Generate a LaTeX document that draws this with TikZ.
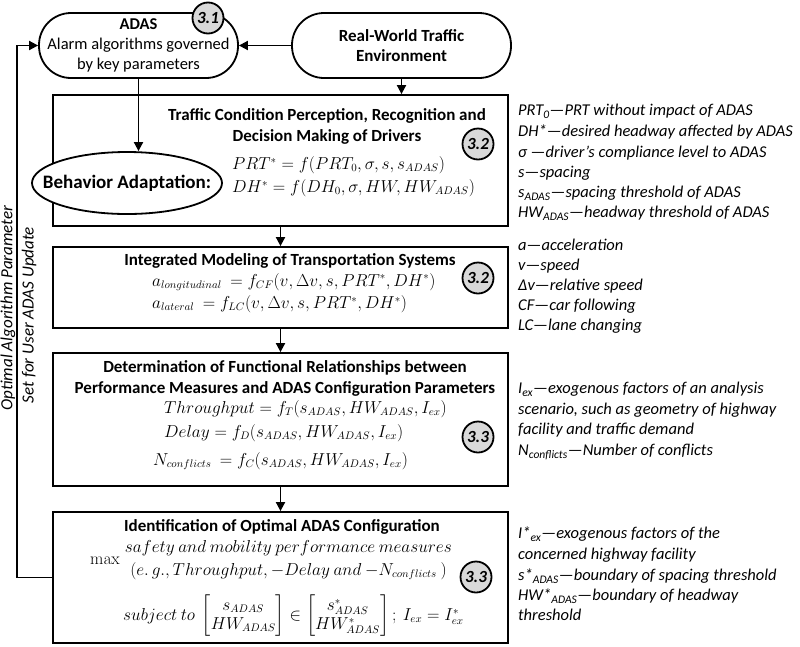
\documentclass[tikz,border=0pt]{standalone}
\usepackage[no-math]{fontspec}
\setmainfont{Carlito}
\usepackage{amsmath}
\usetikzlibrary{arrows.meta,shapes.geometric}
\definecolor{badgegray}{HTML}{D9D9D9}
\tikzset{
  blk/.style={draw=black, line width=1.8pt},
  procbox/.style={blk, minimum width=455pt, inner sep=0pt},
  stadium/.style={blk, rounded corners=32pt, minimum height=65pt, inner sep=0pt, align=center,
    font=\fontsize{16.5}{20}\selectfont},
  badge/.style={blk, circle, fill=badgegray, minimum size=31pt, inner sep=0pt,
    font=\bfseries\itshape\fontsize{17}{17}\selectfont},
  arr/.style={line width=1.8pt, -{Triangle[length=9pt,width=9pt]}},
  ttl/.style={font=\bfseries\fontsize{17}{21}\selectfont, align=center, inner sep=0pt},
  eq/.style={font=\fontsize{16.3}{19}\selectfont, anchor=west, inner sep=0pt},
  note/.style={font=\itshape\fontsize{16.5}{20}\selectfont, anchor=base west, inner sep=0pt},
  side/.style={font=\itshape\fontsize{17}{20}\selectfont, rotate=90, inner sep=0pt},
}
\begin{document}
\begin{tikzpicture}[x=1pt,y=-1pt]
\useasboundingbox (0,0) rectangle (800,646);

% top nodes
\node[stadium, minimum width=199pt] (adas) at (138.5,45.5) {\textbf{ADAS}\\Alarm algorithms governed\\by key parameters};
\node[stadium, minimum width=219pt, font=\bfseries\fontsize{17}{20}\selectfont] (rw) at (401.5,45.5) {Real-World Traffic\\Environment};
\node[badge] (b31) at (208,18) {3.1};

% process boxes
\node[procbox, minimum height=131pt] (box1) at (280.5,160.5) {};
\node[procbox, minimum height=81pt] (box2) at (280.5,287.5) {};
\node[procbox, minimum height=133pt] (box3) at (280.5,419.5) {};
\node[procbox, minimum height=131pt] (box4) at (280.5,577.5) {};

% box 1 content
\node[ttl] (t1) at (327,126) {Traffic Condition Perception, Recognition and\\Decision Making of Drivers};
\node[eq] (e11) at (232,165) {$PRT^{*} = f(PRT_0, \sigma, s, s_{ADAS})$};
\node[eq] (e12) at (232,188) {$DH^{*} = f(DH_0, \sigma, HW, HW_{ADAS})$};
\node[blk, ellipse, fill=white, minimum width=190pt, minimum height=62pt, inner sep=0pt] (ell) at (127,183) {};
\node[font=\bfseries\fontsize{19}{19}\selectfont, inner sep=0pt] (elltxt) at (ell.center) {Behavior Adaptation:};
\node[badge] (b32a) at (478,144) {3.2};

% box 2 content
\node[ttl] (t2) at (290,261) {Integrated Modeling of Transportation Systems};
\node[eq] (e21) at (152,282) {$a_{longitudinal}\ = f_{CF}(v, \Delta v, s, PRT^{*}, DH^{*})$};
\node[eq] (e22) at (152,304) {$a_{lateral}\ = f_{LC}(v, \Delta v, s, PRT^{*}, DH^{*})$};
\node[badge] (b32b) at (478,278) {3.2};

% box 3 content
\node[ttl] (t3) at (285,378) {Determination of Functional Relationships between\\Performance Measures and ADAS Configuration Parameters};
\node[eq] (e31) at (164,409) {$Throughput = f_T(s_{ADAS}, HW_{ADAS}, I_{ex})$};
\node[eq] (e32) at (164,433) {$Delay = f_D(s_{ADAS}, HW_{ADAS}, I_{ex})$};
\node[eq] (e33) at (153,461) {$N_{conflicts}\ = f_C(s_{ADAS}, HW_{ADAS}, I_{ex})$};
\node[badge] (b33a) at (478,437) {3.3};

% box 4 content
\node[ttl] (t4) at (282,527) {Identification of Optimal ADAS Configuration};
\node[eq] (e41) at (90,560) {$\max\!\begin{array}{c} safety\ and\ mobility\ performance\ measures\\[4pt] (e.\,g., Throughput, -Delay\ and\ {-}N_{conflicts}\ )\end{array}$};
\node[eq] (e42) at (123,616) {$subject\ to\ \begin{bmatrix} s_{ADAS}\\ HW_{ADAS}\end{bmatrix} \in \begin{bmatrix} s^{*}_{ADAS}\\ HW^{*}_{ADAS}\end{bmatrix};\ I_{ex} = I^{*}_{ex}$};
\node[badge] (b33b) at (476,577) {3.3};

% connectors
\draw[arr] (rw.west) -- (adas.east);
\draw[arr] (rw.south) -- (rw.south |- box1.north);
\draw[arr] (adas.south) -- (adas.south |- ell.north);
\draw[arr] (box1.south) -- (box2.north);
\draw[arr] (box2.south) -- (box3.north);
\draw[arr] (box3.south) -- (box4.north);
\coordinate (fb1) at (17,577.5);
\coordinate (fb2) at (17,45.5);
\draw[arr] (box4.west) -- (fb1) -- (fb2) -- (adas.west);

% side labels
\node[side] (s1) at (8,308) {Optimal Algorithm Parameter};
\node[side] (s2) at (29,315) {Set for User ADAS Update};

% notes
\foreach \yy/\tx [count=\i] in {
  110/{PRT\textsubscript{0}—PRT without impact of ADAS},
  131/{DH*—desired headway affected by ADAS},
  152/{σ —driver’s compliance level to ADAS},
  172/{s—spacing},
  192/{s\textsubscript{ADAS}—spacing threshold of ADAS},
  212/{HW\textsubscript{ADAS}—headway threshold of ADAS},
  245/{a—acceleration},
  265/{v—speed},
  285/{Δv—relative speed},
  305/{CF—car following},
  325/{LC—lane changing},
  388/{I\textsubscript{ex}—exogenous factors of an analysis},
  409/{scenario, such as geometry of highway},
  429/{facility and traffic demand},
  450/{N\textsubscript{conflicts}—Number of conflicts},
  533/{I*\textsubscript{ex}—exogenous factors of the},
  554/{concerned highway facility},
  575/{s*\textsubscript{ADAS}—boundary of spacing threshold},
  595/{HW*\textsubscript{ADAS}—boundary of headway},
  615/{threshold}}
  \node[note] (note\i) at (518,\yy+5.5) {\tx};
\end{tikzpicture}
\end{document}
